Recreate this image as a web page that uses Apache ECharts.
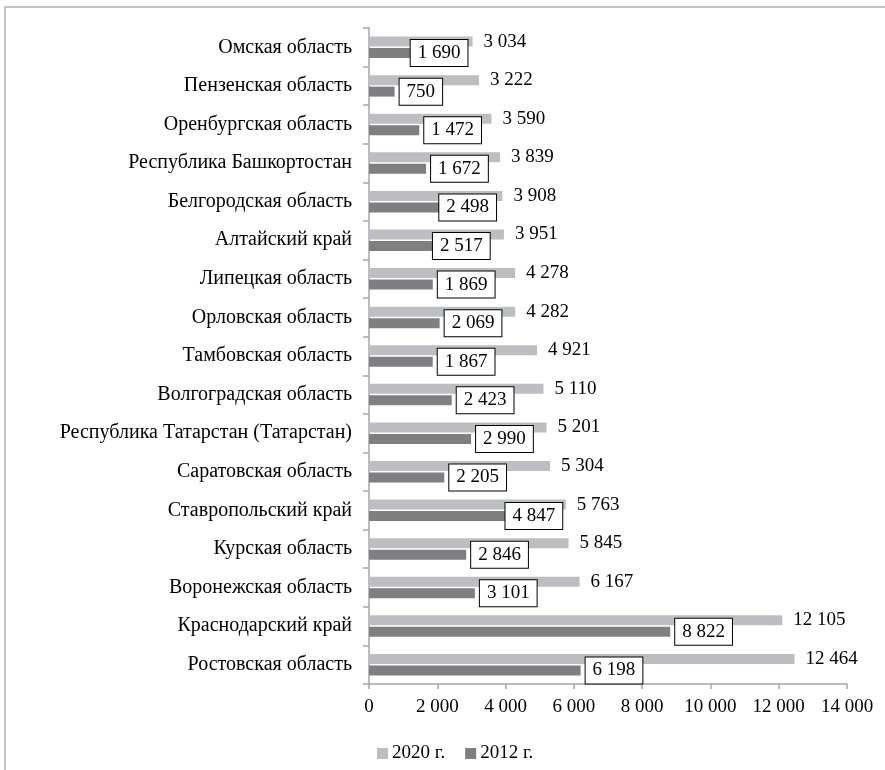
<!DOCTYPE html>
<html>
<head>
<meta charset="utf-8">
<script src="https://cdn.jsdelivr.net/npm/echarts@6/dist/echarts.min.js"></script>
<style>
  html, body { margin: 0; padding: 0; background: #fff; }
  #chart { width: 885px; height: 770px; }
</style>
</head>
<body>
<div id="chart"></div>
<script>
// Regions, listed top to bottom
const regions = [
  'Омская область',
  'Пензенская область',
  'Оренбургская область',
  'Республика Башкортостан',
  'Белгородская область',
  'Алтайский край',
  'Липецкая область',
  'Орловская область',
  'Тамбовская область',
  'Волгоградская область',
  'Республика Татарстан (Татарстан)',
  'Саратовская область',
  'Ставропольский край',
  'Курская область',
  'Воронежская область',
  'Краснодарский край',
  'Ростовская область'
];
const values2020 = [3034, 3222, 3590, 3839, 3908, 3951, 4278, 4282, 4921, 5110, 5201, 5304, 5763, 5845, 6167, 12105, 12464];
const values2012 = [1690, 750, 1472, 1672, 2498, 2517, 1869, 2069, 1867, 2423, 2990, 2205, 4847, 2846, 3101, 8822, 6198];
const seriesNames = ['2020 г.', '2012 г.'];
const axisTicks = { min: 0, max: 14000, step: 2000 };

// boxed labels nudged left so they do not collide with neighbours
const boxShift = { 0: -21, 4: -20, 5: -27, 12: -34 };

const FONT = "'Liberation Serif', 'Times New Roman', serif";
const fmt = v => String(v).replace(/\B(?=(\d{3})+(?!\d))/g, ' ');

const data2012 = values2012.map((v, i) =>
  boxShift[i] !== undefined ? { value: v, label: { offset: [boxShift[i], 0] } } : v
);

const chart = echarts.init(document.getElementById('chart'), null, { renderer: 'canvas' });
chart.setOption({
  animation: false,
  backgroundColor: '#fff',
  textStyle: { fontFamily: FONT },
  graphic: [{
    type: 'rect',
    shape: { x: 5, y: 7, width: 900, height: 800 },
    style: { fill: 'none', stroke: '#b4b4b4', lineWidth: 1.5 },
    silent: true
  }],
  legend: {
    data: seriesNames,
    left: 372,
    top: 739,
    itemWidth: 11,
    itemHeight: 11,
    itemGap: 20,
    icon: 'rect',
    textStyle: { fontFamily: FONT, fontSize: 19, color: '#000', padding: [0, 0, 0, -1] }
  },
  grid: { left: 369, right: 38, top: 28, bottom: 86, containLabel: false },
  xAxis: {
    type: 'value',
    min: axisTicks.min,
    max: axisTicks.max,
    interval: axisTicks.step,
    axisLine: { show: true, lineStyle: { color: '#a6a6a6', width: 1.5 } },
    axisTick: { show: true, length: 5, lineStyle: { color: '#a6a6a6', width: 1.5 } },
    splitLine: { show: false },
    axisLabel: { fontFamily: FONT, fontSize: 19, color: '#000', margin: 14, formatter: fmt }
  },
  yAxis: {
    type: 'category',
    inverse: true,
    data: regions,
    axisLine: { show: true, lineStyle: { color: '#a6a6a6', width: 1.5 } },
    axisTick: { show: true, length: 6, lineStyle: { color: '#a6a6a6', width: 1.5 } },
    axisLabel: { fontFamily: FONT, fontSize: 20, color: '#000', margin: 17 }
  },
  series: [
    {
      name: seriesNames[0],
      type: 'bar',
      data: values2020,
      barWidth: 10,
      barGap: '15%',
      itemStyle: { color: '#bdbec2' },
      label: {
        show: true,
        position: 'right',
        distance: 11,
        fontFamily: FONT,
        fontSize: 19,
        color: '#000',
        formatter: p => fmt(p.value)
      }
    },
    {
      name: seriesNames[1],
      type: 'bar',
      data: data2012,
      barWidth: 10,
      barGap: '15%',
      itemStyle: { color: '#7f7f82' },
      label: {
        show: true,
        position: 'right',
        distance: 5,
        fontFamily: FONT,
        fontSize: 19,
        color: '#000',
        backgroundColor: '#fff',
        borderColor: '#000',
        borderWidth: 1,
        padding: [4, 7, 3, 7],
        formatter: p => fmt(p.value)
      }
    }
  ]
});
</script>
</body>
</html>
